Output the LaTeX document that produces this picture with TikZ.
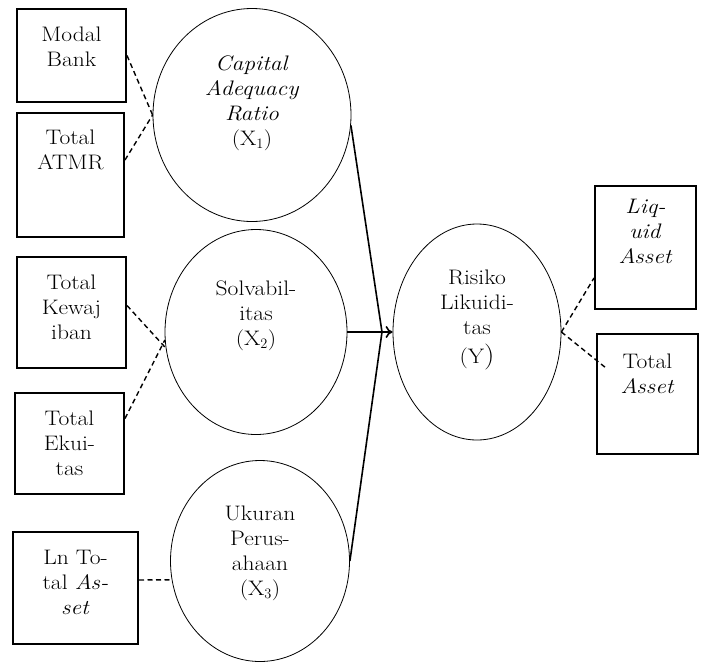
\documentclass[tikz,border=0pt]{standalone}
\usepackage{fontspec}
\setmainfont{Latin Modern Roman}[FakeStretch=1.12]
\usetikzlibrary{shapes.geometric,arrows.meta}
\begin{document}
\begin{tikzpicture}[x=1pt,y=-1pt,
    font=\fontsize{21}{25}\selectfont,
    ind/.style={draw, line width=2pt, inner sep=0pt},
    lat/.style={draw, ellipse, line width=0.8pt, inner sep=0pt},
    txt/.style={align=center, inner sep=0pt},
    load/.style={line width=1.4pt, dash pattern=on 5pt off 3.5pt},
    reg/.style={line width=1.6pt}]
    \useasboundingbox (0,0) rectangle (704,662);

    % Indicator boxes
    \node[ind, minimum width=109, minimum height=93] (mb) at (71.5,55.5)
        [label={[txt, yshift=8.5pt]center:Modal\\Bank}] {};
    \node[ind, minimum width=107, minimum height=124] (atmr) at (70.5,175)
        [label={[txt, yshift=25pt]center:Total\\ATMR}] {};
    \node[ind, minimum width=109, minimum height=111] (kw) at (71.5,312.5)
        [label={[txt, yshift=5pt]center:Total\\Kewaj\\iban}] {};
    \node[ind, minimum width=109, minimum height=101] (ek) at (69.5,443.5)
        [label={[txt]center:Total\\Ekui-\\tas}] {};
    \node[ind, minimum width=125, minimum height=112] (ln) at (75.5,588)
        [label={[txt, yshift=6pt]center:Ln To-\\tal \textit{As-}\\\textit{set}}] {};
    \node[ind, minimum width=101, minimum height=123] (la) at (645.5,247.5)
        [label={[txt, yshift=16.5pt]center:\textit{Liq-}\\\textit{uid}\\\textit{Asset}}] {};
    \node[ind, minimum width=101, minimum height=120] (ta) at (647.5,394)
        [label={[txt, yshift=20pt]center:Total\\\textit{Asset}}] {};

    % Latent variables
    \node[lat, minimum width=198, minimum height=213] (x1) at (252,115)
        [label={[txt, yshift=11.5pt]center:\textit{Capital}\\\textit{Adequacy}\\\textit{Ratio}\\(X$_1$)}] {};
    \node[lat, minimum width=182, minimum height=205] (x2) at (256,332)
        [label={[txt, yshift=16pt]center:Solvabil-\\itas\\(X$_2$)}] {};
    \node[lat, minimum width=179, minimum height=201] (x3) at (260,561)
        [label={[txt, yshift=8pt]center:Ukuran\\Perus-\\ahaan\\(X$_3$)}] {};
    \node[lat, minimum width=168, minimum height=216] (y) at (477,332)
        [label={[txt, yshift=12pt]center:Risiko\\Likuidi-\\tas\\[4pt](Y{\fontsize{26}{25}\selectfont )}}] {};

    % Paths
    \coordinate (j) at (382,332);
    \draw[reg] (x1.354) -- (j) -- (x3.east);
    \draw[reg, -{To[length=7pt, width=12pt]}] (x2.east) -- (y.west);

    % Loadings
    \draw[load] (mb.east) -- (x1.west);
    \draw[load] ([yshift=15pt]atmr.east) -- (x1.west);
    \draw[load] ([yshift=7pt]kw.east) -- (x2.190);
    \draw[load] ([yshift=25pt]ek.east) -- (x2.185);
    \draw[load] ([yshift=8pt]ln.east) -- (x3.192);
    \draw[load] (y.east) -- ([yshift=32pt]la.south west);
    \draw[load] (y.east) -- ([xshift=10pt, yshift=26pt]ta.west);
\end{tikzpicture}
\end{document}
